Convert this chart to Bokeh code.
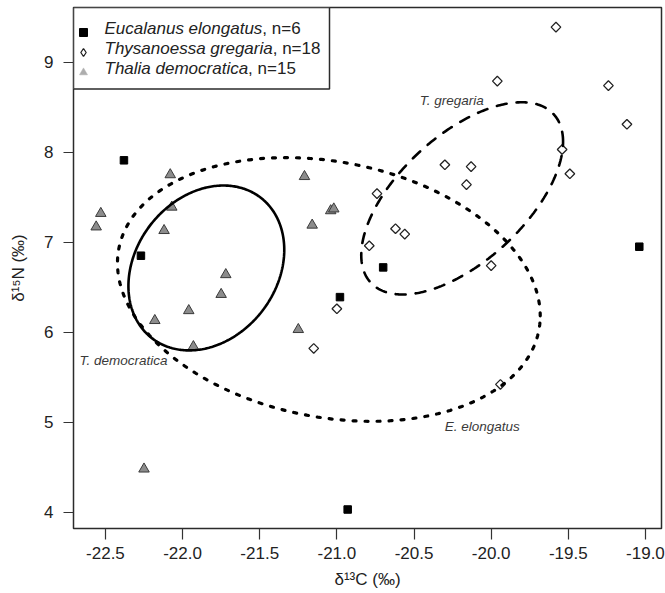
import numpy as np
from bokeh.plotting import figure
from bokeh.models import (Range1d, FixedTicker, Legend, LegendItem, Label,
                          BoxAnnotation)
from bokeh.embed import file_html
from bokeh.resources import INLINE

# ---------------- data ----------------
euc_d13c = [-22.38, -22.27, -20.70, -20.98, -19.04, -20.93]
euc_d15n = [7.91, 6.85, 6.72, 6.39, 6.95, 4.03]

thy_d13c = [-19.58, -19.96, -19.24, -19.12, -19.54, -19.49, -20.30, -20.13,
            -20.16, -20.74, -20.62, -20.56, -20.79, -20.00, -21.00, -21.15,
            -19.94]
thy_d15n = [9.39, 8.79, 8.74, 8.31, 8.03, 7.76, 7.86, 7.84,
            7.64, 7.54, 7.15, 7.09, 6.96, 6.74, 6.26, 5.82,
            5.42]

tha_d13c = [-22.53, -22.56, -22.08, -22.07, -22.12, -22.18, -21.96, -21.93,
            -22.25, -21.21, -21.04, -21.02, -21.16, -21.72, -21.75, -21.25]
tha_d15n = [7.32, 7.17, 7.75, 7.39, 7.13, 6.13, 6.24, 5.84,
            4.48, 7.73, 7.35, 7.37, 7.19, 6.64, 6.42, 6.03]

legend_species = ["Eucalanus elongatus", "Thysanoessa gregaria", "Thalia democratica"]
legend_n = [6, 18, 15]

# standard ellipses: centre, half-extent in x and y, correlation
ell_names = ["T. democratica", "E. elongatus", "T. gregaria"]
ell_cx = [-21.846, -21.052, -20.188]
ell_cy = [6.714, 6.475, 7.487]
ell_rx = [0.505, 1.370, 0.654]
ell_ry = [0.916, 1.465, 1.068]
ell_rho = [0.22, -0.20, 0.59]

x_ticks = [-22.5, -22.0, -21.5, -21.0, -20.5, -20.0, -19.5, -19.0]
x_tick_labels = ["-22.5", "-22.0", "-21.5", "-21.0", "-20.5", "-20.0", "-19.5", "-19.0"]
y_ticks = [4, 5, 6, 7, 8, 9]
y_tick_labels = ["4", "5", "6", "7", "8", "9"]

x_title = "δ¹³C (‰)"
y_title = "δ¹⁵N (‰)"

# ---------------- layout ----------------
W, H = 665, 593
BL, BR, BT, BB = 73, 4, 7, 65
FRAME_H = H - BT - BB
FONT = "Liberation Sans"
INK = "#222222"

p = figure(width=W, height=H, output_backend="svg", toolbar_location=None,
           x_range=Range1d(-22.707, -18.896), y_range=Range1d(3.819, 9.608),
           min_border_left=BL, min_border_right=BR, min_border_top=BT,
           min_border_bottom=BB)
p.xgrid.visible = False
p.ygrid.visible = False
p.outline_line_color = "#2b2b2b"
p.outline_line_width = 1.5
p.background_fill_color = "white"
p.border_fill_color = "white"

for ax, ticks, labels, tick_len, lab_off, title_off, title in (
        (p.xaxis, x_ticks, x_tick_labels, 11, 7, 8, x_title),
        (p.yaxis, y_ticks, y_tick_labels, 10, 10, 13, y_title)):
    ax.ticker = FixedTicker(ticks=ticks)
    ax.major_label_overrides = {t: s for t, s in zip(ticks, labels)}
    ax.axis_label = title
    ax.axis_line_color = None
    ax.major_tick_out = tick_len
    ax.major_tick_in = 0
    ax.minor_tick_out = 0
    ax.minor_tick_in = 0
    ax.major_tick_line_color = "#333333"
    ax.major_tick_line_width = 1.2
    ax.major_label_text_font = FONT
    ax.major_label_text_font_size = "17px"
    ax.major_label_text_color = INK
    ax.major_label_standoff = lab_off
    ax.axis_label_text_font = FONT
    ax.axis_label_text_font_size = "17px"
    ax.axis_label_text_font_style = "normal"
    ax.axis_label_text_color = INK
    ax.axis_label_standoff = title_off

# ---------------- points ----------------
r_sq = p.scatter(euc_d13c, euc_d15n, marker="square", size=7.5,
                 fill_color="black", line_color="black", line_width=1)
r_di = p.scatter(thy_d13c, thy_d15n, marker="square", angle=np.pi / 4, size=6.8,
                 fill_color=None, line_color="#222222", line_width=1.3)
r_tr = p.scatter(tha_d13c, tha_d15n, marker="triangle", size=10.5,
                 fill_color="#8c8c8c", line_color="#3a3a3a", line_width=1)

# ---------------- ellipses ----------------
ell_styles = [
    dict(line_dash="solid", line_width=2.6),
    dict(line_dash="3 9", line_width=3.2, line_cap="round"),
    dict(line_dash="10 10", line_width=2.6, line_cap="round"),
]
t = np.linspace(0, 2 * np.pi, 361)
for cx, cy, rx, ry, rho, st in zip(ell_cx, ell_cy, ell_rx, ell_ry, ell_rho, ell_styles):
    d = np.arccos(rho)
    p.line(cx + rx * np.cos(t), cy + ry * np.cos(t - d), line_color="black", **st)

# ellipse labels
ell_label_pos = [(-22.383, 5.687), (-20.058, 4.954), (-20.256, 8.573)]
for name, (lx, ly) in zip(ell_names, ell_label_pos):
    p.add_layout(Label(x=lx, y=ly, text=name, text_align="center",
                       text_baseline="middle", text_font=FONT,
                       text_font_style="italic", text_font_size="13.5px",
                       text_color="#3a3a3a"))

# ---------------- legend ----------------
p.add_layout(BoxAnnotation(left=0, right=256, top=FRAME_H, bottom=FRAME_H - 81.5,
                           left_units="screen", right_units="screen",
                           top_units="screen", bottom_units="screen",
                           fill_color="white", fill_alpha=1,
                           line_color="#2b2b2b", line_width=1.5, line_alpha=1))

nan = [float("nan")]
leg_sq = p.scatter(x=nan, y=nan, marker="square", fill_color="black", line_color="black")
leg_di = p.scatter(x=nan, y=nan, marker="diamond", fill_color=None,
                   line_color="#222222", line_width=1.3)
leg_tr = p.scatter(x=nan, y=nan, marker="triangle", fill_color="#adadad",
                   line_color="#adadad", line_width=0.5)

PAD, GW, GH, ROW, TOP_OFF = 4, 20, 20, 20, 7
legend = Legend(items=[LegendItem(label=" ", renderers=[r])
                       for r in (leg_sq, leg_di, leg_tr)],
                location=(0, FRAME_H - TOP_OFF - (2 * PAD + 3 * ROW)),
                padding=PAD, margin=0, spacing=0,
                glyph_width=GW, glyph_height=GH, label_height=ROW,
                label_standoff=0, label_width=0,
                label_text_font=FONT, label_text_font_size="4px",
                border_line_color=None, background_fill_alpha=0)
p.add_layout(legend)

ARIAL_W = {"E": 667, "u": 556, "c": 500, "a": 556, "l": 222, "n": 556, "s": 500,
           " ": 278, "e": 556, "o": 556, "g": 556, "t": 278, "T": 611, "h": 556,
           "y": 500, "r": 333, "i": 222, "d": 556, "m": 833}
LABEL_X0 = 31
for i, (s, n) in enumerate(zip(legend_species, legend_n)):
    ly = FRAME_H - TOP_OFF - PAD - ROW / 2 - i * ROW
    w = sum(ARIAL_W.get(ch, 556) for ch in s) / 1000 * 17
    p.add_layout(Label(x=LABEL_X0, y=ly, x_units="screen", y_units="screen",
                       text=s, text_font=FONT, text_font_size="17px",
                       text_font_style="italic", text_color=INK,
                       text_baseline="middle", text_align="left"))
    p.add_layout(Label(x=LABEL_X0 + w, y=ly, x_units="screen", y_units="screen",
                       text=f", n={n}", text_font=FONT, text_font_size="17px",
                       text_color=INK, text_baseline="middle", text_align="left"))

open("out.html", "w").write(file_html(p, INLINE))
